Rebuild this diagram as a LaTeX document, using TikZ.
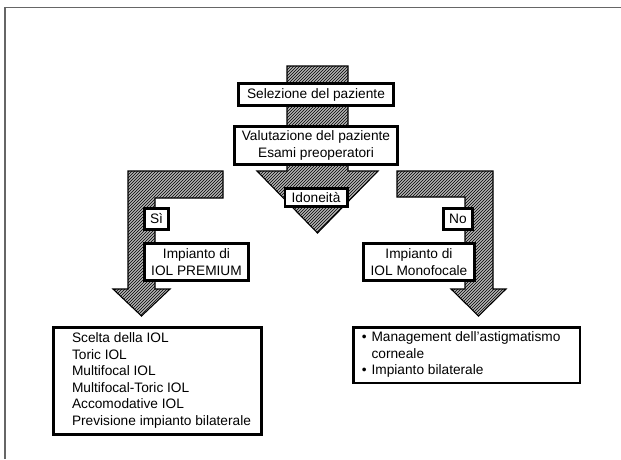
\documentclass[tikz,border=0pt]{standalone}
\usepackage{fontspec}
\setmainfont{Liberation Sans}
\usetikzlibrary{positioning,patterns}

\tikzset{
  hatch/.style={draw=black, line width=1.1pt, preaction={fill=gray!60}, pattern=north east lines, pattern color=black},
  box/.style={draw, line width=2.6pt, fill=white, inner sep=0pt, align=center, font=\fontsize{13.7}{16.5}\selectfont},
}

\begin{document}
\begin{tikzpicture}[x=1pt, y=-1pt]
    \useasboundingbox (0,0) rectangle (621,459);
    \draw[gray!80!black, line width=1.6pt] (5,459) -- (5,7.5) -- (621,7.5);

    \draw[hatch] (287,66) -- (348,66) -- (348,171) -- (378,171) -- (317.5,233) -- (257,171) -- (287,171) -- cycle;
    \draw[hatch] (223,171) -- (128,171) -- (128,289) -- (113,289) -- (141.5,316) -- (170,289) -- (155,289) -- (155,198) -- (223,198) -- cycle;
    \draw[hatch] (397,171) -- (493,171) -- (493,289) -- (506,289) -- (478.5,316) -- (451,289) -- (465,289) -- (465,197) -- (397,197) -- cycle;

    \node[box, minimum width=155.4pt, minimum height=22.4pt] (sel) at (316,94.5) {Selezione del paziente};
    \node[box, minimum width=163.4pt, minimum height=38.4pt, below=18pt of sel] (val) {Valutazione del paziente\\Esami preoperatori};
    \node[box, minimum width=62.4pt, minimum height=18.4pt, below=21pt of val] (ido) {Idoneità};
    \node[box, minimum width=104.4pt, minimum height=37.4pt] (prem) at (196.5,262) {Impianto di\\IOL PREMIUM};
    \node[box, minimum width=111.4pt, minimum height=37.4pt, right=112pt of prem] (mono) {Impianto di\\IOL Monofocale};
    \node[box, minimum width=24.4pt, minimum height=21.4pt, above=11pt of prem.north west, anchor=south west] (si) {Sì};
    \node[box, minimum width=29.4pt, minimum height=21.4pt, above=11pt of mono.north east, anchor=south east, xshift=-2pt] (no) {No};

    \node[box, anchor=north, inner xsep=10pt, inner ysep=4pt, minimum width=208.4pt] (lstp) at (157.5,326)
        {\begin{tabular}{@{\hspace{8pt}}l@{}}
         Scelta della IOL\\
         Toric IOL\\
         Multifocal IOL\\
         Multifocal-Toric IOL\\
         Accomodative IOL\\
         Previsione impianto bilaterale
         \end{tabular}};
    \node[box, anchor=north west, inner xsep=8.5pt, inner ysep=3pt] (lstm) at (352,326)
        {\begin{tabular}{@{}l@{\hspace{5pt}}l@{\hspace{11pt}}}
         \textbullet & Management dell’astigmatismo\\
                     & corneale\\
         \textbullet & Impianto bilaterale
         \end{tabular}};
\end{tikzpicture}
\end{document}
